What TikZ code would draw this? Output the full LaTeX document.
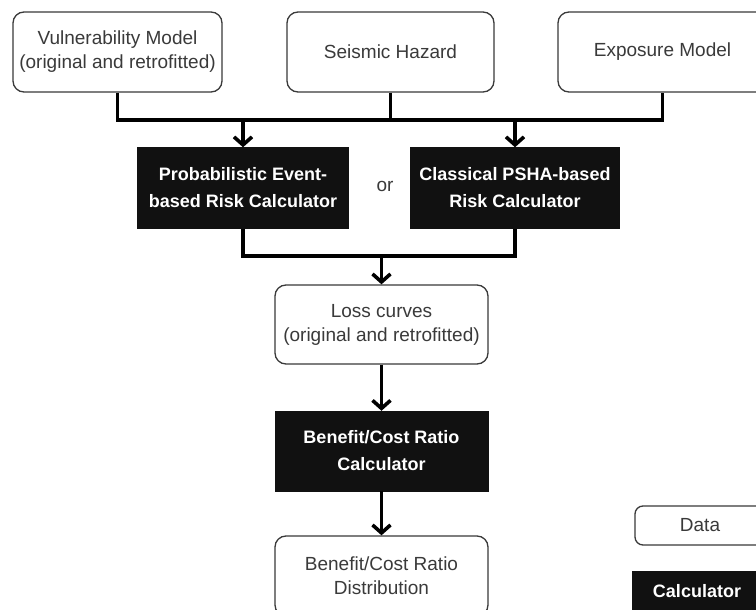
\documentclass[tikz,border=0pt]{standalone}
\usepackage{fontspec}
\setmainfont{Liberation Sans}
\usetikzlibrary{arrows.meta}

\definecolor{boxline}{HTML}{3A3A3A}
\definecolor{textgray}{HTML}{3A3A3A}
\definecolor{calcfill}{HTML}{111111}

\tikzset{
  databox/.style={draw=boxline, line width=1.3pt, rounded corners=11pt, fill=white,
    text=textgray, align=center, inner sep=0pt,
    font=\fontsize{19}{24}\selectfont},
  calcbox/.style={draw=calcfill, fill=calcfill, text=white, align=center, inner sep=0pt,
    font=\bfseries\fontsize{18}{27}\selectfont},
  conn/.style={line width=3.2pt, draw=black, line join=miter},
  flow/.style={conn, -{Straight Barb[length=8pt,width=18pt,line width=3.6pt]}},
}

\begin{document}
\begin{tikzpicture}[x=1pt,y=-1pt]
  \useasboundingbox (0,0) rectangle (756,610);
  \clip (0,0) rectangle (756,610);
  \fill[white] (0,0) rectangle (756,610);

  % input data
  \node[databox, minimum width=209pt, minimum height=80pt] (vuln) at (117.5,52)
    {Vulnerability Model\\(original and retrofitted)};
  \node[databox, minimum width=207pt, minimum height=80pt] (seis) at (390.5,52)
    {Seismic Hazard};
  \node[databox, minimum width=209pt, minimum height=80pt] (expo) at (662.5,52)
    {Exposure Model};

  % risk calculators
  \node[calcbox, minimum width=211pt, minimum height=81pt] (event) at (243,188)
    {Probabilistic Event-\\based Risk Calculator};
  \node[calcbox, minimum width=209pt, minimum height=81pt] (psha) at (515,188)
    {Classical PSHA-based\\Risk Calculator};
  \node[text=textgray, font=\fontsize{19}{24}\selectfont] (or) at (385,186) {or};

  % results chain
  \node[databox, minimum width=213pt, minimum height=79pt] (loss) at (381.5,324.5)
    {Loss curves\\(original and retrofitted)};
  \node[calcbox, minimum width=213pt, minimum height=80pt] (bcr) at (381.5,451)
    {Benefit/Cost Ratio\\Calculator};
  \node[databox, minimum width=213pt, minimum height=80pt] (dist) at (381.5,576)
    {Benefit/Cost Ratio\\Distribution};

  % legend
  \node[databox, rounded corners=8pt, minimum width=130pt, minimum height=39pt] (legdata) at (700,525.5)
    {Data};
  \node[calcbox, minimum width=130pt, minimum height=40pt] (legcalc) at (697,591)
    {Calculator};

  % connectors
  \coordinate (bustop) at (0,120);
  \coordinate (busmid) at (0,256);

  \draw[conn] (vuln.south) -- (vuln.south |- bustop) -- (expo.south |- bustop) -- (expo.south);
  \draw[conn] (seis.south) -- (seis.south |- bustop);
  \draw[flow] (event.north |- bustop) -- (event.north);
  \draw[flow] (psha.north |- bustop) -- (psha.north);

  \draw[conn] (event.south) -- (event.south |- busmid) -- (psha.south |- busmid) -- (psha.south);
  \draw[flow] (loss.north |- busmid) -- (loss.north);

  \draw[flow] (loss.south) -- (bcr.north);
  \draw[flow] (bcr.south) -- (dist.north);
\end{tikzpicture}
\end{document}
